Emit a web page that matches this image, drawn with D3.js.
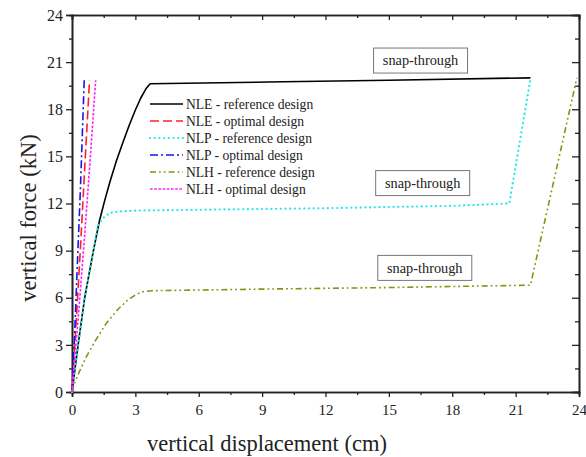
<!DOCTYPE html>
<html>
<head>
<meta charset="utf-8">
<script src="https://cdn.jsdelivr.net/npm/d3@7"></script>
<style>
  body { margin: 0; background: #fff; }
  svg text { font-family: "Liberation Serif", "Times New Roman", serif !important; fill: #222; }
</style>
</head>
<body>
<div id="chart"></div>
<script>
"use strict";

// tick values
const xTicks = [0, 3, 6, 9, 12, 15, 18, 21, 24];
const yTicks = [0, 3, 6, 9, 12, 15, 18, 21, 24];
const xMinor = [1.5, 4.5, 7.5, 10.5, 13.5, 16.5, 19.5, 22.5];
const yMinor = [1.5, 4.5, 7.5, 10.5, 13.5, 16.5, 19.5, 22.5];

// curves, [displacement cm, force kN]
const nleRef = [[0, 0], [0.3, 3.1], [0.6, 6.0], [1.0, 8.9], [1.3, 10.9], [1.55, 12.2], [1.8, 13.4],
  [2.1, 14.7], [2.4, 15.85], [2.7, 16.95], [3.0, 17.95], [3.25, 18.7], [3.5, 19.3], [3.7, 19.62],
  [10, 19.75], [15, 19.85], [21.7, 20.0]];
const nleOpt = [[0, 0], [0.2, 4.5], [0.4, 9.2], [0.6, 14.2], [0.83, 19.85]];
const nlpRef = [[0, 0], [0.6, 6.0], [1.0, 8.9], [1.23, 10.6], [1.45, 11.05], [1.78, 11.4], [2.3, 11.5],
  [3, 11.55], [6, 11.6], [12, 11.7], [18, 11.85], [20.7, 12.0], [21.7, 19.9]];
const nlpOpt = [[0, 0], [0.12, 3.5], [0.25, 8], [0.4, 13], [0.58, 19.9]];
const nlhRef = [[0, 0], [0.1, 0.5], [0.35, 1.3], [0.68, 2.25], [1.1, 3.25], [1.62, 4.37], [2.2, 5.3],
  [2.6, 5.8], [2.88, 6.07], [3.15, 6.28], [3.4, 6.4], [3.8, 6.45], [9, 6.55], [15, 6.65],
  [21.7, 6.8], [23.9, 20.0]];
const nlhOpt = [[0, 0], [0.3, 4.8], [0.6, 10], [0.85, 14.6], [1.12, 19.85]];

const seriesNames = ["NLE - reference design", "NLE - optimal design", "NLP - reference design",
  "NLP - optimal design", "NLH - reference design", "NLH - optimal design"];
const seriesData = [nleRef, nleOpt, nlpRef, nlpOpt, nlhRef, nlhOpt];

const snapLabels = [[16.5, 21.1], [16.6, 13.3], [16.7, 7.9]];

const size = { width: 586, height: 457, left: 72, right: 579, top: 15, bottom: 392 };
const serif = "'Liberation Serif', 'Times New Roman', serif";

const styles = [
  { color: "#000000", dash: null, width: 1.6, cap: "butt" },
  { color: "#ff2020", dash: "9,4", width: 1.6, cap: "butt" },
  { color: "#22e8ee", dash: "0.1,4.6", width: 2.2, cap: "round" },
  { color: "#1515ee", dash: "8,3,2,3", width: 1.6, cap: "butt" },
  { color: "#8f8f10", dash: "6,3,1.8,3,1.8,3", width: 1.6, cap: "butt" },
  { color: "#ff22ff", dash: "2.6,1.6", width: 1.6, cap: "butt" }
];

const svg = d3.select("#chart").append("svg")
  .attr("width", size.width)
  .attr("height", size.height);

const xScale = d3.scaleLinear().domain([0, 24]).range([size.left, size.right]);
const yScale = d3.scaleLinear().domain([0, 24]).range([size.bottom, size.top]);

function styleAxis(g) {
  g.attr("font-family", serif);
  g.select(".domain").attr("stroke", "#222").attr("stroke-width", 1.6);
  g.selectAll(".tick line").attr("stroke", "#222").attr("stroke-width", 1.3);
}

// bottom
svg.append("g")
  .attr("transform", "translate(0," + size.bottom + ")")
  .call(d3.axisBottom(xScale).tickValues(xTicks).tickSize(5).tickPadding(7).tickFormat(d3.format("d")))
  .call(styleAxis)
  .call(g => g.selectAll("text").style("font-size", "15px").attr("fill", "#222"));
svg.append("g")
  .attr("transform", "translate(0," + size.bottom + ")")
  .call(d3.axisBottom(xScale).tickValues(xMinor).tickSize(3).tickFormat(""))
  .call(styleAxis);

// top (ticks inward)
svg.append("g")
  .attr("transform", "translate(0," + size.top + ")")
  .call(d3.axisBottom(xScale).tickValues(xTicks).tickSize(5).tickFormat(""))
  .call(styleAxis);
svg.append("g")
  .attr("transform", "translate(0," + size.top + ")")
  .call(d3.axisBottom(xScale).tickValues(xMinor).tickSize(3).tickFormat(""))
  .call(styleAxis);

// left
svg.append("g")
  .attr("transform", "translate(" + size.left + ",0)")
  .call(d3.axisLeft(yScale).tickValues(yTicks).tickSize(6).tickPadding(3).tickFormat(d3.format("d")))
  .call(styleAxis)
  .call(g => g.selectAll("text").style("font-size", "16px").attr("fill", "#222"));
svg.append("g")
  .attr("transform", "translate(" + size.left + ",0)")
  .call(d3.axisLeft(yScale).tickValues(yMinor).tickSize(3).tickFormat(""))
  .call(styleAxis);

// right (ticks inward)
svg.append("g")
  .attr("transform", "translate(" + size.right + ",0)")
  .call(d3.axisLeft(yScale).tickValues(yTicks).tickSize(7).tickFormat(""))
  .call(styleAxis);
svg.append("g")
  .attr("transform", "translate(" + size.right + ",0)")
  .call(d3.axisLeft(yScale).tickValues(yMinor).tickSize(4).tickFormat(""))
  .call(styleAxis);

// curves
let line = d3.line()
  .x(d => xScale(d[0]))
  .y(d => yScale(d[1]));

seriesData.forEach(function (data, i) {
  let st = styles[i];
  svg.append("path")
    .datum(data)
    .attr("d", line)
    .attr("fill", "none")
    .attr("stroke", st.color)
    .attr("stroke-width", st.width)
    .attr("stroke-linecap", st.cap)
    .attr("stroke-linejoin", "round")
    .attr("stroke-dasharray", st.dash);
});

// legend
let legend = svg.append("g").attr("transform", "translate(150,104)");
seriesNames.forEach(function (name, i) {
  let st = styles[i];
  let y = i * 17;
  legend.append("line")
    .attr("x1", 0).attr("x2", 33)
    .attr("y1", y).attr("y2", y)
    .attr("stroke", st.color)
    .attr("stroke-width", st.width)
    .attr("stroke-linecap", st.cap)
    .attr("stroke-dasharray", st.dash);
  legend.append("text")
    .attr("x", 36)
    .attr("y", y)
    .attr("dy", "0.35em")
    .style("font-family", serif)
    .style("font-size", "13.6px")
    .text(name);
});

// snap-through boxes
snapLabels.forEach(function (p) {
  let cx = xScale(p[0]), cy = yScale(p[1]);
  svg.append("rect")
    .attr("x", cx - 47).attr("y", cy - 12.5)
    .attr("width", 94).attr("height", 25)
    .attr("fill", "#fff")
    .attr("stroke", "#777")
    .attr("stroke-width", 1);
  svg.append("text")
    .attr("x", cx).attr("y", cy)
    .attr("dy", "0.33em")
    .attr("text-anchor", "middle")
    .style("font-family", serif)
    .style("font-size", "14.3px")
    .text("snap-through");
});

// axis titles
svg.append("text")
  .attr("x", 267)
  .attr("y", 451)
  .attr("text-anchor", "middle")
  .style("font-family", serif)
  .style("font-size", "22.5px")
  .text("vertical displacement (cm)");

svg.append("text")
  .attr("transform", "translate(36," + 218 + ") rotate(-90)")
  .attr("text-anchor", "middle")
  .style("font-family", serif)
  .style("font-size", "22.5px")
  .text("vertical force (kN)");
</script>
</body>
</html>
